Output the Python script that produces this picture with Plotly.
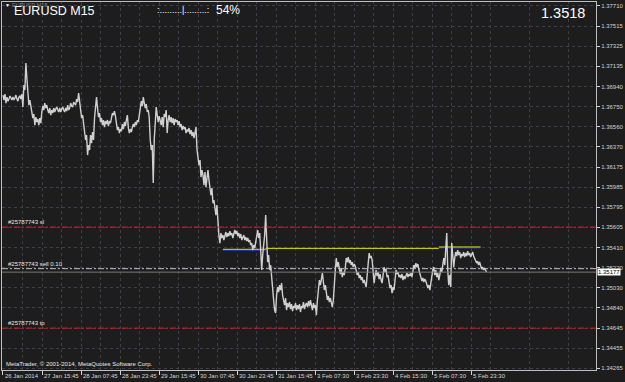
import plotly.graph_objects as go
import numpy as np

# ---------------- data ----------------
symbol_title = "EURUSD M15"
big_price = "1.3518"
bid_price = 1.35177
progress_text = ":.........|.........:"
progress_pct = "54%"
copyright_text = "MetaTrader, \u00a9 2001-2014, MetaQuotes Software Corp."

# close prices, one sample every ~1.63 M15 bars (64 bars = 16 h between date labels)
closes = [
    1.36859, 1.36812, 1.36869, 1.36783, 1.36840, 1.36802, 1.36821, 1.36850, 1.36831, 1.36812,
    1.36840, 1.36812, 1.36831, 1.36859, 1.36821, 1.36802, 1.36840, 1.36850, 1.36821, 1.36869,
    1.36745, 1.36954, 1.36907, 1.37163, 1.37021, 1.36859, 1.36764, 1.36812, 1.36736, 1.36698,
    1.36641, 1.36679, 1.36574, 1.36650, 1.36603, 1.36631, 1.36574, 1.36641, 1.36593, 1.36698,
    1.36755, 1.36717, 1.36783, 1.36736, 1.36764, 1.36717, 1.36688, 1.36736, 1.36669, 1.36717,
    1.36688, 1.36736, 1.36698, 1.36726, 1.36745, 1.36717, 1.36698, 1.36736, 1.36698, 1.36726,
    1.36745, 1.36717, 1.36698, 1.36736, 1.36707, 1.36764, 1.36717, 1.36736, 1.36783, 1.36755,
    1.36745, 1.36793, 1.36774, 1.36764, 1.36821, 1.36793, 1.36878, 1.36812, 1.36698, 1.36641,
    1.36669, 1.36574, 1.36527, 1.36432, 1.36479, 1.36289, 1.36384, 1.36337, 1.36479, 1.36403,
    1.36508, 1.36432, 1.36641, 1.36764, 1.36840, 1.36736, 1.36650, 1.36688, 1.36603, 1.36641,
    1.36574, 1.36622, 1.36555, 1.36612, 1.36584, 1.36622, 1.36565, 1.36612, 1.36593, 1.36641,
    1.36688, 1.36669, 1.36707, 1.36660, 1.36603, 1.36527, 1.36555, 1.36498, 1.36536, 1.36517,
    1.36584, 1.36536, 1.36603, 1.36565, 1.36622, 1.36669, 1.36546, 1.36498, 1.36536, 1.36508,
    1.36555, 1.36584, 1.36555, 1.36603, 1.36574, 1.36622, 1.36603, 1.36669, 1.36764, 1.36802,
    1.36755, 1.36840, 1.36783, 1.36736, 1.36774, 1.36698, 1.36717, 1.36641, 1.36432, 1.36337,
    1.36384, 1.36023, 1.36432, 1.36622, 1.36745, 1.36669, 1.36603, 1.36660, 1.36622, 1.36574,
    1.36650, 1.36555, 1.36679, 1.36650, 1.36717, 1.36498, 1.36622, 1.36669, 1.36603, 1.36650,
    1.36593, 1.36641, 1.36574, 1.36631, 1.36603, 1.36622, 1.36574, 1.36612, 1.36555, 1.36584,
    1.36527, 1.36565, 1.36536, 1.36555, 1.36498, 1.36527, 1.36517, 1.36546, 1.36489, 1.36527,
    1.36470, 1.36508, 1.36451, 1.36498, 1.36555, 1.36337, 1.36261, 1.36194, 1.36242, 1.36080,
    1.36147, 1.36099, 1.36004, 1.36128, 1.35985, 1.36052, 1.36147, 1.36052, 1.35957, 1.35909,
    1.35976, 1.35833, 1.35862, 1.35767, 1.35719, 1.35814, 1.35624, 1.35529, 1.35453, 1.35548,
    1.35501, 1.35529, 1.35482, 1.35520, 1.35558, 1.35510, 1.35548, 1.35520, 1.35567, 1.35529,
    1.35548, 1.35501, 1.35558, 1.35577, 1.35539, 1.35567, 1.35520, 1.35548, 1.35501, 1.35539,
    1.35482, 1.35520, 1.35529, 1.35482, 1.35510, 1.35472, 1.35501, 1.35463, 1.35482, 1.35434,
    1.35453, 1.35387, 1.35434, 1.35406, 1.35482, 1.35529, 1.35577, 1.35501, 1.35548, 1.35387,
    1.35197, 1.35339, 1.35434, 1.35529, 1.35719, 1.35406, 1.35273, 1.35339, 1.35197, 1.35244,
    1.35102, 1.35007, 1.34912, 1.34817, 1.34788, 1.34959, 1.35035, 1.34988, 1.35054, 1.35007,
    1.35073, 1.34959, 1.34912, 1.34864, 1.34931, 1.34817, 1.34883, 1.34845, 1.34893, 1.34826,
    1.34874, 1.34807, 1.34855, 1.34836, 1.34883, 1.34817, 1.34864, 1.34826, 1.34874, 1.34798,
    1.34855, 1.34836, 1.34893, 1.34826, 1.34864, 1.34883, 1.34845, 1.34902, 1.34855, 1.34912,
    1.34864, 1.34817, 1.34883, 1.34836, 1.34864, 1.34769, 1.34912, 1.35007, 1.35102, 1.35054,
    1.35121, 1.35168, 1.35083, 1.35007, 1.35054, 1.34959, 1.34912, 1.34950, 1.34893, 1.34931,
    1.34864, 1.34845, 1.34912, 1.35102, 1.35197, 1.35311, 1.35225, 1.35273, 1.35197, 1.35159,
    1.35216, 1.35130, 1.35178, 1.35149, 1.35216, 1.35311, 1.35273, 1.35320, 1.35263, 1.35292,
    1.35244, 1.35273, 1.35225, 1.35254, 1.35235, 1.35197, 1.35149, 1.35178, 1.35121, 1.35149,
    1.35102, 1.35130, 1.35073, 1.35102, 1.35054, 1.35035, 1.35149, 1.35273, 1.35358, 1.35311,
    1.35330, 1.35292, 1.35197, 1.35073, 1.35149, 1.35197, 1.35140, 1.35178, 1.35111, 1.35159,
    1.35102, 1.35073, 1.35149, 1.35225, 1.35178, 1.35206, 1.35130, 1.35149, 1.35083, 1.35026,
    1.35054, 1.34978, 1.35035, 1.35007, 1.35102, 1.35197, 1.35159, 1.35178, 1.35130, 1.35149,
    1.35121, 1.35159, 1.35102, 1.35140, 1.35111, 1.35149, 1.35168, 1.35130, 1.35159, 1.35140,
    1.35168, 1.35130, 1.35197, 1.35244, 1.35216, 1.35263, 1.35225, 1.35254, 1.35197, 1.35149,
    1.35130, 1.35092, 1.35121, 1.35083, 1.35111, 1.35092, 1.35064, 1.35026, 1.35054, 1.35007,
    1.35073, 1.35149, 1.35197, 1.35225, 1.35149, 1.35197, 1.35130, 1.35168, 1.35102, 1.35149,
    1.35216, 1.35178, 1.35273, 1.35311, 1.35244, 1.35358, 1.35548, 1.35197, 1.35054, 1.35149,
    1.35035, 1.35453, 1.35339, 1.35225, 1.35311, 1.35368, 1.35330, 1.35387, 1.35339, 1.35368,
    1.35311, 1.35349, 1.35330, 1.35368, 1.35320, 1.35358, 1.35330, 1.35377, 1.35339, 1.35358,
    1.35320, 1.35349, 1.35368, 1.35330, 1.35311, 1.35292, 1.35263, 1.35282, 1.35244, 1.35273,
    1.35225, 1.35206, 1.35225, 1.35197, 1.35216, 1.35187, 1.35177,
]

date_labels = ["26 Jan 2014", "27 Jan 15:45", "28 Jan 07:45", "28 Jan 23:45", "29 Jan 15:45",
               "30 Jan 07:45", "30 Jan 23:45", "31 Jan 15:45", "3 Feb 07:30", "3 Feb 23:30",
               "4 Feb 15:30", "5 Feb 07:30", "5 Feb 23:30"]

price_ticks = [1.37710, 1.37515, 1.37325, 1.37135, 1.36940, 1.36750, 1.36560, 1.36370,
               1.36175, 1.35985, 1.35795, 1.35605, 1.35410, 1.35220, 1.35030, 1.34840,
               1.34645, 1.34455, 1.34265]

order_id = "#25787743"
order_lots = "0.10"
sl_price = 1.35605
tp_price = 1.34645
open_price = 1.35210

# horizontal indicator levels (start sample, end sample, price)
yellow_start = [221, 264, 438]
yellow_end = [264, 438, 480]
yellow_price = [1.35394, 1.35403, 1.35416]
navy_start = [221, 438]
navy_end = [264, 480]
navy_price = [1.35385, 1.35407]

# ---------------- style ----------------
BG = "#1d1d1d"
GRID = "#3e3e4a"
FG = "#d4d4d4"
FONT = "Liberation Sans, Arial, sans-serif"
SAMPLES_PER_LABEL = 39.2

x = np.arange(len(closes))
label_pos = [k * SAMPLES_PER_LABEL for k in range(len(date_labels))]

fig = go.Figure()

# indicator levels
yx, yy = [], []
for s, e, p in zip(yellow_start, yellow_end, yellow_price):
    yx += [s, e, None]
    yy += [p, p, None]
nx, ny = [], []
for s, e, p in zip(navy_start, navy_end, navy_price):
    nx += [s, e, None]
    ny += [p, p, None]
fig.add_trace(go.Scatter(x=nx, y=ny, mode="lines", line=dict(color="#2a3cc8", width=1),
                         hoverinfo="skip", showlegend=False))
fig.add_trace(go.Scatter(x=yx, y=yy, mode="lines", line=dict(color="#e6e600", width=1),
                         hoverinfo="skip", showlegend=False))

# price line
fig.add_trace(go.Scatter(x=x, y=closes, mode="lines",
                         line=dict(color="#cfcfcf", width=1.4), showlegend=False))

shapes = []
# minor vertical grid (between date labels)
for k in range(len(date_labels) + 3):
    xv = k * SAMPLES_PER_LABEL + SAMPLES_PER_LABEL / 2
    shapes.append(dict(type="line", xref="x", yref="paper", x0=xv, x1=xv, y0=0, y1=1,
                       line=dict(color=GRID, width=1, dash="3px,3px"), layer="below"))
# order levels
shapes.append(dict(type="line", xref="paper", yref="y", x0=0, x1=1, y0=sl_price, y1=sl_price,
                   line=dict(color="#d42424", width=1, dash="6px,2px,2px,2px")))
shapes.append(dict(type="line", xref="paper", yref="y", x0=0, x1=1, y0=tp_price, y1=tp_price,
                   line=dict(color="#d42424", width=1, dash="6px,2px,2px,2px")))
shapes.append(dict(type="line", xref="paper", yref="y", x0=0, x1=1, y0=bid_price, y1=bid_price,
                   line=dict(color="#7a7a7a", width=1)))
shapes.append(dict(type="line", xref="paper", yref="y", x0=0, x1=1, y0=open_price, y1=open_price,
                   line=dict(color="#c0c0c0", width=1, dash="6px,2px,2px,2px")))

ann = []
for pos, lab in zip(label_pos, date_labels):
    ann.append(dict(x=pos, y=0, xref="x", yref="paper", text=lab, showarrow=False,
                    xanchor="left", yanchor="top", xshift=0, yshift=-1,
                    font=dict(family=FONT, size=6, color=FG)))
small = dict(family=FONT, size=6, color="#e8e8e8")
ann += [
    dict(x=0, y=sl_price, xref="paper", yref="y", text=f"{order_id} sl", showarrow=False,
         xanchor="left", yanchor="bottom", xshift=4, yshift=0, font=small),
    dict(x=0, y=open_price, xref="paper", yref="y", text=f"{order_id} sell {order_lots}",
         showarrow=False, xanchor="left", yanchor="bottom", xshift=4, yshift=0, font=small),
    dict(x=0, y=tp_price, xref="paper", yref="y", text=f"{order_id} tp", showarrow=False,
         xanchor="left", yanchor="bottom", xshift=4, yshift=0, font=small),
    dict(x=0, y=0, xref="paper", yref="paper", text=copyright_text, showarrow=False,
         xanchor="left", yanchor="bottom", xshift=2, yshift=1, font=small),
    dict(x=1, y=bid_price, xref="paper", yref="y", text=f"{bid_price:.5f}", showarrow=False,
         xanchor="left", yanchor="middle", xshift=1, bgcolor="#ffffff", borderpad=0,
         font=dict(family=FONT, size=6, color="#000000")),
    dict(x=0, y=1, xref="paper", yref="paper", text="\u25bc", showarrow=False,
         xanchor="left", yanchor="middle", xshift=1, yshift=-3,
         font=dict(family=FONT, size=5, color="#ffffff")),
    dict(x=0, y=1, xref="paper", yref="paper", text="EURUSD,M15", showarrow=False,
         xanchor="left", yanchor="middle", xshift=8, yshift=-3,
         font=dict(family=FONT, size=5.5, color="#8a8a8a")),
    dict(x=0, y=1, xref="paper", yref="paper", text=symbol_title, showarrow=False,
         xanchor="left", yanchor="middle", xshift=10, yshift=-9,
         font=dict(family=FONT, size=12.5, color="#ffffff")),
    dict(x=0, y=1, xref="paper", yref="paper", text=progress_text, showarrow=False,
         xanchor="left", yanchor="middle", xshift=153, yshift=-8,
         font=dict(family=FONT, size=9, color="#ffffff")),
    dict(x=0, y=1, xref="paper", yref="paper", text=progress_pct, showarrow=False,
         xanchor="left", yanchor="middle", xshift=212, yshift=-8,
         font=dict(family=FONT, size=12, color="#ffffff")),
    dict(x=1, y=1, xref="paper", yref="paper", text=big_price, showarrow=False,
         xanchor="right", yanchor="middle", xshift=-9, yshift=-11,
         font=dict(family=FONT, size=14.5, color="#ffffff")),
]

fig.update_layout(
    width=625, height=382,
    margin=dict(l=1, r=27, t=2, b=12, pad=0),
    paper_bgcolor=BG, plot_bgcolor=BG,
    showlegend=False,
    shapes=shapes, annotations=ann,
    xaxis=dict(range=[-1, 596], tickmode="array", tickvals=label_pos, showticklabels=False,
               ticks="outside", ticklen=4, tickcolor=FG, showgrid=True, gridcolor=GRID,
               griddash="3px,3px", gridwidth=1, showline=True, linecolor="#bdbdbd",
               linewidth=1, mirror=True, zeroline=False, fixedrange=True),
    yaxis=dict(range=[1.342473, 1.377433], side="right", tickmode="array",
               tickvals=price_ticks, tickformat=".5f", ticks="outside", ticklen=3,
               tickcolor=FG, tickfont=dict(family=FONT, size=6, color=FG),
               showgrid=True, gridcolor=GRID, griddash="3px,3px", gridwidth=1,
               showline=True, linecolor="#bdbdbd", linewidth=1, mirror=True,
               zeroline=False, fixedrange=True),
)

fig.write_html("out.html")
